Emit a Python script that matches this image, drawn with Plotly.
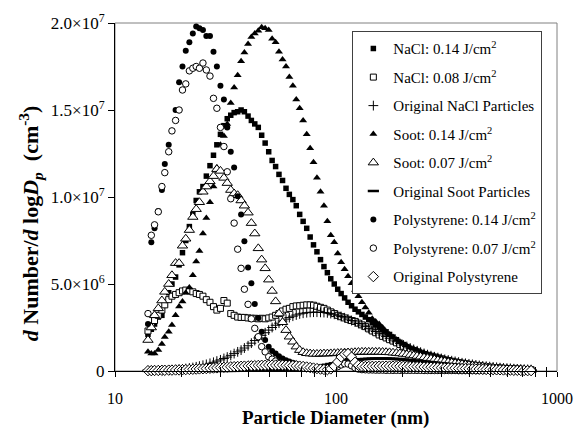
import plotly.graph_objects as go

# SMPS channel mid-point diameters (nm)
diameter_nm = [
    14.1, 14.6, 15.1, 15.7, 16.3, 16.8, 17.5, 18.1, 18.8, 19.5,
    20.2, 20.9, 21.7, 22.5, 23.3, 24.1, 25.0, 25.9, 26.9, 27.9,
    28.9, 30.0, 31.1, 32.2, 33.4, 34.6, 35.9, 37.2, 38.5, 40.0,
    41.4, 42.9, 44.5, 46.1, 47.8, 49.6, 51.4, 53.3, 55.2, 57.3,
    59.4, 61.5, 63.8, 66.1, 68.5, 71.0, 73.7, 76.4, 79.1, 82.0,
    85.1, 88.2, 91.4, 94.7, 98.2, 101.8, 105.5, 109.4, 113.4, 117.6,
    121.9, 126.3, 131.0, 135.8, 140.7, 145.9, 151.2, 156.8, 162.5, 168.5,
    174.7, 181.1, 187.7, 194.6, 201.7, 209.1, 216.7, 224.7, 232.9, 241.4,
    250.3, 259.5, 269.0, 278.8, 289.0, 299.6, 310.6, 322.0, 333.8, 346.0,
    358.7, 371.8, 385.4, 399.5, 414.2, 429.4, 445.1, 461.4, 478.3, 495.8,
    514.0, 532.8, 552.3, 572.5, 593.5, 615.3, 637.8, 661.2, 685.4, 710.5,
    736.5, 763.5]

# dN/dlogDp in units of 1e6 cm^-3
nacl_014 = [
    2.1, 2.4, 2.7, 3.1, 3.2, 3.8, 4.5, 5.0, 5.4, 6.1,
    6.8, 7.5, 8.3, 9.0, 9.8, 10.3, 10.6, 11.2, 11.8, 12.4,
    13.0, 13.6, 14.1, 14.5, 14.7, 14.85, 14.9, 15.0, 14.9, 14.65,
    14.4, 14.2, 14.0, 13.55, 13.1, 12.6, 12.1, 11.75, 11.3, 10.95,
    10.5, 10.15, 9.85, 9.5, 9.0, 8.6, 8.2, 7.7, 7.25, 6.85,
    6.4, 6.0, 5.65, 5.3, 5.0, 4.7, 4.45, 4.2, 3.95, 3.75,
    3.55, 3.4, 3.25, 3.1, 2.95, 2.8, 2.65, 2.5, 2.38, 2.25,
    2.1, 1.95, 1.8, 1.65, 1.52, 1.4, 1.28, 1.18, 1.08, 1.0,
    0.92, 0.85, 0.79, 0.73, 0.68, 0.64, 0.6, 0.56, 0.52, 0.48,
    0.45, 0.42, 0.39, 0.36, 0.34, 0.32, 0.3, 0.28, 0.26, 0.24,
    0.22, 0.2, 0.19, 0.18, 0.17, 0.16, 0.15, 0.13, 0.12, 0.11,
    0.1, 0.09]

nacl_008 = [
    2.3, 2.6, 2.9, 3.2, 3.5, 3.8, 4.1, 4.3, 4.4, 4.5,
    4.6, 4.65, 4.6, 4.55, 4.45, 4.4, 4.3, 4.1, 3.95, 3.7,
    3.5, 3.6, 4.05, 3.9, 3.3, 3.2, 3.1, 3.08, 3.08, 3.05,
    3.03, 3.03, 3.0, 3.03, 3.0, 3.05, 3.1, 3.2, 3.3, 3.45,
    3.55, 3.6, 3.7, 3.74, 3.75, 3.78, 3.8, 3.8, 3.78, 3.72,
    3.66, 3.6, 3.5, 3.4, 3.3, 3.2, 3.12, 3.05, 2.97, 2.9,
    2.85, 2.75, 2.65, 2.55, 2.42, 2.3, 2.2, 2.07, 1.99, 1.9,
    1.8, 1.72, 1.62, 1.52, 1.42, 1.33, 1.25, 1.18, 1.1, 1.02,
    0.95, 0.9, 0.85, 0.8, 0.75, 0.7, 0.64, 0.6, 0.56, 0.52,
    0.48, 0.45, 0.42, 0.38, 0.35, 0.32, 0.3, 0.27, 0.25, 0.22,
    0.2, 0.18, 0.17, 0.15, 0.14, 0.13, 0.12, 0.11, 0.1, 0.09,
    0.08, 0.07]

nacl_orig = [
    0.02, 0.02, 0.03, 0.03, 0.04, 0.05, 0.06, 0.07, 0.08, 0.1,
    0.12, 0.14, 0.17, 0.2, 0.24, 0.28, 0.33, 0.38, 0.44, 0.5,
    0.57, 0.64, 0.72, 0.8, 0.9, 1.0, 1.1, 1.2, 1.32, 1.45,
    1.6, 1.75, 1.9, 2.05, 2.2, 2.35, 2.5, 2.63, 2.75, 2.87,
    2.98, 3.07, 3.15, 3.22, 3.28, 3.32, 3.35, 3.37, 3.38, 3.38,
    3.37, 3.36, 3.34, 3.3, 3.26, 3.2, 3.13, 3.06, 2.98, 2.9,
    2.82, 2.73, 2.64, 2.55, 2.45, 2.36, 2.27, 2.17, 2.07, 1.98,
    1.88, 1.78, 1.68, 1.59, 1.5, 1.41, 1.32, 1.24, 1.16, 1.08,
    1.01, 0.94, 0.88, 0.82, 0.77, 0.72, 0.67, 0.63, 0.59, 0.55,
    0.51, 0.47, 0.44, 0.41, 0.38, 0.35, 0.32, 0.29, 0.27, 0.25,
    0.23, 0.21, 0.19, 0.17, 0.16, 0.15, 0.13, 0.12, 0.11, 0.1,
    0.09, 0.08]

soot_014 = [
    1.1, 1.0, 1.0, 1.2, 1.55, 1.95, 2.25, 2.65, 3.2, 3.7,
    4.0, 4.5, 4.8, 5.5, 6.3, 6.9, 7.9, 8.8, 9.7, 10.6,
    11.7, 13.0, 13.5, 14.2, 15.4, 16.3, 17.0, 17.8, 18.3, 18.8,
    19.2, 19.4, 19.55, 19.75, 19.7, 19.6, 19.1, 18.9, 18.35, 17.9,
    17.5, 16.9, 16.4, 15.6, 15.1, 14.4, 13.6, 12.8, 12.0, 11.1,
    10.3, 9.5, 8.6, 7.8, 7.4, 6.75, 6.25, 5.85, 5.45, 5.05,
    4.65, 4.3, 3.95, 3.65, 3.35, 3.0, 2.85, 2.7, 2.5, 2.25,
    2.1, 1.95, 1.8, 1.65, 1.55, 1.45, 1.35, 1.28, 1.2, 1.12,
    1.05, 0.98, 0.92, 0.87, 0.82, 0.76, 0.7, 0.65, 0.6, 0.56,
    0.52, 0.48, 0.44, 0.41, 0.38, 0.35, 0.32, 0.29, 0.26, 0.24,
    0.22, 0.2, 0.18, 0.16, 0.14, 0.12, 0.11, 0.1, 0.09, 0.08,
    0.07, 0.06]

soot_007 = [
    1.78, 2.5, 3.2, 3.6, 4.05, 4.55, 5.0, 5.5, 6.2, 6.2,
    7.2, 7.6, 8.1, 8.85, 9.3, 9.7, 10.3, 10.6, 10.9, 11.2,
    11.6, 11.5, 11.1, 10.8, 10.4, 10.2, 10.1, 9.8, 9.5, 9.1,
    8.5, 7.9, 7.05, 6.4, 5.9, 5.25, 4.6, 4.0, 3.3, 2.8,
    2.35, 1.97, 1.68, 1.4, 1.2, 1.08, 1.02, 1.0, 0.98, 0.98,
    0.99, 1.0, 1.0, 1.01, 1.02, 1.03, 1.04, 1.05, 1.06, 1.07,
    1.08, 1.09, 1.1, 1.1, 1.1, 1.1, 1.1, 1.1, 1.09, 1.08,
    1.07, 1.05, 1.03, 1.01, 0.98, 0.95, 0.92, 0.89, 0.86, 0.82,
    0.78, 0.74, 0.7, 0.66, 0.62, 0.58, 0.55, 0.51, 0.48, 0.45,
    0.42, 0.39, 0.36, 0.34, 0.31, 0.29, 0.27, 0.25, 0.23, 0.21,
    0.19, 0.17, 0.16, 0.14, 0.13, 0.12, 0.11, 0.1, 0.09, 0.08,
    0.07, 0.06]

soot_orig = [
    0.01, 0.01, 0.01, 0.01, 0.01, 0.01, 0.01, 0.01, 0.01, 0.01,
    0.01, 0.01, 0.01, 0.01, 0.01, 0.01, 0.01, 0.01, 0.01, 0.01,
    0.01, 0.01, 0.01, 0.01, 0.01, 0.01, 0.02, 0.02, 0.02, 0.02,
    0.02, 0.02, 0.03, 0.03, 0.03, 0.04, 0.04, 0.05, 0.05, 0.06,
    0.07, 0.08, 0.09, 0.1, 0.12, 0.14, 0.16, 0.19, 0.22, 0.25,
    0.28, 0.32, 0.36, 0.4, 0.44, 0.48, 0.52, 0.56, 0.6, 0.62,
    0.64, 0.66, 0.68, 0.69, 0.7, 0.71, 0.72, 0.72, 0.72, 0.72,
    0.71, 0.7, 0.69, 0.68, 0.66, 0.64, 0.62, 0.6, 0.58, 0.56,
    0.54, 0.52, 0.5, 0.48, 0.46, 0.44, 0.42, 0.4, 0.38, 0.36,
    0.34, 0.32, 0.3, 0.28, 0.26, 0.24, 0.22, 0.2, 0.19, 0.17,
    0.16, 0.14, 0.13, 0.12, 0.11, 0.1, 0.09, 0.08, 0.07, 0.06,
    0.05, 0.04]

ps_014 = [
    2.7, 7.4, 8.2, 9.2, 10.4, 11.9, 13.0, 13.8, 15.0, 16.6,
    17.5, 18.4, 18.9, 19.4, 19.8, 19.7, 19.6, 19.25, 19.25, 18.35,
    17.5, 16.4, 15.6, 14.0, 12.6, 11.7, 10.05, 9.0, 7.45, 5.95,
    5.05, 3.85, 3.05, 2.26, 1.78, 1.4, 1.15, 1.0, 0.85, 0.72,
    0.62, 0.54, 0.47, 0.41, 0.35, 0.31, 0.28, 0.25, 0.22, 0.2,
    0.17, 0.15, 0.14, 0.16, 0.22, 0.35, 0.5, 0.6, 0.58, 0.42,
    0.25, 0.15, 0.12, 0.1, 0.09, 0.08, 0.08, 0.07, 0.07, 0.06,
    0.06, 0.05, 0.05, 0.05, 0.04, 0.04, 0.04, 0.04, 0.03, 0.03,
    0.03, 0.03, 0.03, 0.03, 0.03, 0.03, 0.03, 0.03, 0.03, 0.03,
    0.02, 0.02, 0.02, 0.02, 0.02, 0.02, 0.02, 0.02, 0.02, 0.02,
    0.02, 0.02, 0.02, 0.02, 0.02, 0.02, 0.02, 0.02, 0.02, 0.02,
    0.02, 0.02]

ps_007 = [
    3.3, 7.8, 8.4, 9.15, 10.6, 11.4, 12.6, 13.8, 14.4, 15.0,
    16.15, 16.5, 17.25, 17.4, 17.5, 17.4, 17.7, 17.3, 16.95, 15.67,
    15.1, 14.0, 12.9, 11.45, 9.9, 8.5, 7.0, 5.9, 4.7, 3.83,
    3.0, 2.45, 1.97, 1.4, 1.1, 0.82, 0.68, 0.57, 0.48, 0.42,
    0.36, 0.31, 0.27, 0.24, 0.21, 0.18, 0.16, 0.14, 0.12, 0.11,
    0.1, 0.09, 0.09, 0.1, 0.15, 0.25, 0.35, 0.42, 0.4, 0.3,
    0.18, 0.11, 0.08, 0.07, 0.06, 0.06, 0.05, 0.05, 0.05, 0.04,
    0.04, 0.04, 0.04, 0.04, 0.04, 0.04, 0.04, 0.04, 0.04, 0.04,
    0.03, 0.03, 0.03, 0.03, 0.03, 0.03, 0.03, 0.03, 0.03, 0.03,
    0.02, 0.02, 0.02, 0.02, 0.02, 0.02, 0.02, 0.02, 0.02, 0.02,
    0.02, 0.02, 0.02, 0.02, 0.02, 0.02, 0.02, 0.02, 0.02, 0.02,
    0.02, 0.02]

ps_orig = [
    0.02, 0.02, 0.03, 0.03, 0.04, 0.04, 0.05, 0.05, 0.06, 0.06,
    0.07, 0.08, 0.09, 0.1, 0.11, 0.12, 0.13, 0.14, 0.16, 0.17,
    0.18, 0.2, 0.21, 0.22, 0.24, 0.25, 0.26, 0.27, 0.28, 0.29,
    0.3, 0.31, 0.32, 0.33, 0.33, 0.34, 0.34, 0.34, 0.34, 0.34,
    0.33, 0.32, 0.31, 0.3, 0.28, 0.26, 0.23, 0.2, 0.17, 0.14,
    0.11, 0.09, 0.08, 0.12, 0.28, 0.52, 0.8, 0.97, 1.0, 0.8,
    0.5, 0.33, 0.27, 0.26, 0.26, 0.27, 0.27, 0.28, 0.28, 0.28,
    0.28, 0.28, 0.28, 0.27, 0.27, 0.26, 0.26, 0.25, 0.25, 0.24,
    0.23, 0.22, 0.22, 0.21, 0.2, 0.19, 0.18, 0.18, 0.17, 0.16,
    0.15, 0.14, 0.14, 0.13, 0.12, 0.11, 0.11, 0.1, 0.09, 0.09,
    0.08, 0.07, 0.07, 0.06, 0.05, 0.05, 0.04, 0.04, 0.03, 0.03,
    0.02, 0.02]

series_names = [
    "NaCl: 0.14 J/cm<sup>2</sup>",
    "NaCl: 0.08 J/cm<sup>2</sup>",
    "Original NaCl Particles",
    "Soot: 0.14 J/cm<sup>2</sup>",
    "Soot: 0.07 J/cm<sup>2</sup>",
    "Original Soot Particles",
    "Polystyrene: 0.14 J/cm<sup>2</sup>",
    "Polystyrene: 0.07 J/cm<sup>2</sup>",
    "Original Polystyrene",
]
series_values = [nacl_014, nacl_008, nacl_orig, soot_014, soot_007,
                 soot_orig, ps_014, ps_007, ps_orig]

y_tick_vals = [0, 5, 10, 15, 20]
y_tick_text = ["0", "5.0×10<sup>6</sup>", "1.0×10<sup>7</sup>",
               "1.5×10<sup>7</sup>", "2.0×10<sup>7</sup>"]
x_tick_vals = [10, 20, 30, 40, 50, 60, 70, 80, 90,
               100, 200, 300, 400, 500, 600, 700, 800, 900, 1000]
x_tick_text = ["10", " ", " ", " ", " ", " ", " ", " ", " ",
               "100", " ", " ", " ", " ", " ", " ", " ", " ", "1000"]

FONT = "Liberation Serif, Times New Roman, serif"

marker_styles = [
    dict(symbol="square", size=5.5, color="black", line=dict(width=0)),
    dict(symbol="square", size=6, color="white", line=dict(color="black", width=1)),
    dict(symbol="cross-thin-open", size=7, color="black", line=dict(color="black", width=1)),
    dict(symbol="triangle-up", size=7, color="black", line=dict(width=0)),
    dict(symbol="triangle-up", size=9, color="white", line=dict(color="black", width=1)),
    dict(symbol="line-ew-open", size=8, color="black", line=dict(color="black", width=2.5)),
    dict(symbol="circle", size=6, color="black", line=dict(width=0)),
    dict(symbol="circle", size=6.5, color="white", line=dict(color="black", width=1)),
    dict(symbol="diamond", size=8, color="white", line=dict(color="black", width=1)),
]

fig = go.Figure()
for k, (name, vals, mk) in enumerate(zip(series_names, series_values, marker_styles)):
    fig.add_trace(go.Scatter(
        x=diameter_nm, y=vals, mode="markers", name=name,
        marker=mk, cliponaxis=False, legendgroup=f"g{k}",
    ))

# helper trace so the overlaid tick axis (inner half of crossing ticks) is drawn
fig.add_trace(go.Scatter(x=[100], y=[None], xaxis="x2", yaxis="y",
                         mode="markers", showlegend=False, hoverinfo="skip"))

fig.update_layout(
    width=574, height=430,
    margin=dict(l=115, r=17, t=23, b=59, autoexpand=False),
    paper_bgcolor="white", plot_bgcolor="white",
    font=dict(family=FONT, color="black", size=16),
    showlegend=True,
    legend=dict(
        x=0.537, y=0.976, xanchor="left", yanchor="top",
        bgcolor="white", bordercolor="#404040", borderwidth=1,
        font=dict(family=FONT, size=15, color="black"),
        tracegroupgap=6, itemsizing="trace",
    ),
    xaxis=dict(
        type="log", range=[1, 3], tickvals=x_tick_vals, ticktext=x_tick_text,
        ticks="outside", ticklen=5, tickcolor="black", tickwidth=1, tickangle=0,
        showline=True, linecolor="black", linewidth=1, automargin=False,
        showgrid=False, zeroline=False, ticklabelstandoff=8,
        tickfont=dict(family=FONT, size=16),
    ),
    xaxis2=dict(
        type="log", range=[1, 3], overlaying="x", anchor="y", side="bottom",
        tickvals=x_tick_vals, ticks="inside", ticklen=4, tickcolor="black",
        showticklabels=False, showline=False, showgrid=False, zeroline=False,
        automargin=False,
    ),
    yaxis=dict(
        range=[0, 20], tickvals=y_tick_vals, ticktext=y_tick_text,
        ticks="outside", ticklen=6, tickcolor="black",
        showline=True, linecolor="black", linewidth=1, automargin=False,
        showgrid=False, zeroline=False,
        tickfont=dict(family=FONT, size=17),
    ),
    shapes=[dict(type="rect", xref="paper", yref="paper", x0=0, y0=0, x1=1, y1=1,
                 line=dict(color="#808080", width=1), layer="below")],
    annotations=[
        dict(text="<b>Particle Diameter (nm)</b>", xref="paper", yref="paper",
             x=0.499, y=-0.169, xanchor="center", yanchor="bottom", showarrow=False,
             borderpad=0, font=dict(family=FONT, size=19)),
        dict(text="<b><i>d</i> Number/<i>d</i> log<i>D</i><sub><i>p</i></sub>  (cm<sup>-3</sup>)</b>",
             xref="paper", yref="paper", x=-0.192, y=0.425, xanchor="center",
             yanchor="middle", textangle=-90, showarrow=False,
             font=dict(family=FONT, size=22)),
    ],
)

fig.write_html("out.html", config={"displayModeBar": False},
               post_script="document.body.style.margin='0';")
